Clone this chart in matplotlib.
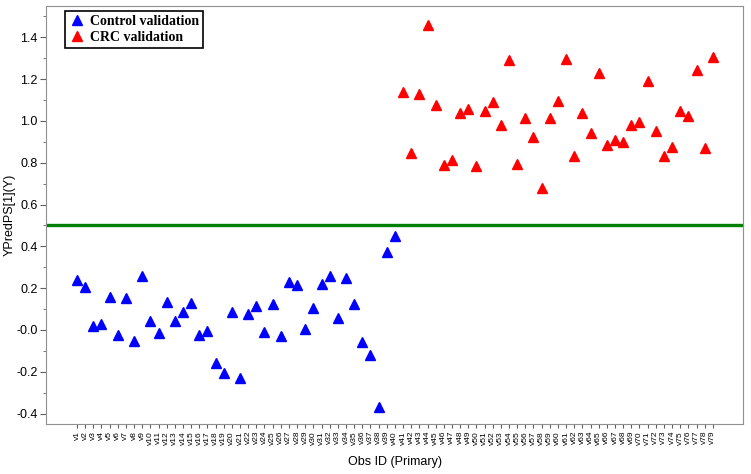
import numpy as np
import matplotlib
matplotlib.use("Agg")
import matplotlib.pyplot as plt
from matplotlib.ticker import MultipleLocator, FuncFormatter

# -------------------------
# Data
# -------------------------
obs_labels = ["v%d" % i for i in range(1, 80)]

control_ids = list(range(1, 41))
control_y = [0.239, 0.207, 0.019, 0.027, 0.157, -0.022, 0.154, -0.051, 0.258, 0.045,
             -0.016, 0.135, 0.042, 0.087, 0.128, -0.022, -0.005, -0.159, -0.204, 0.085,
             -0.228, 0.074, 0.114, -0.008, 0.125, -0.027, 0.231, 0.213, 0.005, 0.107,
             0.218, 0.256, 0.058, 0.247, 0.122, -0.058, -0.119, -0.369, 0.372, 0.447]

crc_ids = list(range(41, 80))
crc_y = [1.139, 0.845, 1.130, 1.458, 1.077, 0.787, 0.813, 1.038, 1.056, 0.782,
         1.045, 1.091, 0.979, 1.290, 0.792, 1.013, 0.925, 0.681, 1.014, 1.095,
         1.295, 0.830, 1.038, 0.942, 1.229, 0.883, 0.907, 0.901, 0.979, 0.995,
         1.189, 0.954, 0.832, 0.875, 1.045, 1.024, 1.242, 0.872, 1.308]

threshold = 0.5

# -------------------------
# Plot
# -------------------------
plt.rcParams['font.family'] = ['Liberation Sans', 'DejaVu Sans']

fig = plt.figure(figsize=(7.51, 4.74), dpi=100)
ax = fig.add_axes([0.0613, 0.1055, 0.928, 0.882])

ax.axhline(threshold, color='#008000', lw=2.4, zorder=1)
ax.plot(control_ids, control_y, ls='none', marker='^', ms=7, color='#0000ff',
        label='Control validation', zorder=3)
ax.plot(crc_ids, crc_y, ls='none', marker='^', ms=7, color='#ff0000',
        label='CRC validation', zorder=3)

ax.set_xlim(-2.8, 82.7)
ax.set_ylim(-0.45, 1.55)

ax.set_xticks(range(1, 80))
ax.set_xticklabels(obs_labels, rotation=90, fontsize=6)
ax.yaxis.set_major_locator(MultipleLocator(0.2))
ax.yaxis.set_minor_locator(MultipleLocator(0.1))
ax.yaxis.set_major_formatter(FuncFormatter(
    lambda v, p: "-0.0" if abs(v) < 1e-9 else "%.1f" % v))
ax.tick_params(axis='y', labelsize=9, length=4, pad=2, color='#606060')
ax.tick_params(axis='y', which='minor', length=2, color='#606060')
ax.tick_params(axis='x', length=3, color='#606060', pad=2)

for s in ax.spines.values():
    s.set_color('#909090')

ax.set_xlabel("Obs ID (Primary)", fontsize=9, labelpad=8)
ax.set_ylabel("YPredPS[1](Y)", fontsize=9)
ax.yaxis.set_label_coords(-0.044, 0.5)

leg = ax.legend(loc='upper left', bbox_to_anchor=(0.027, 0.988), borderaxespad=0,
                fancybox=False, edgecolor='black', framealpha=1,
                prop={'family': 'Liberation Serif', 'weight': 'bold', 'size': 10},
                handletextpad=0.3, borderpad=0.3, labelspacing=0.2, handlelength=1.2)
leg.get_frame().set_linewidth(1.2)

fig.savefig("out.png", dpi=100)
